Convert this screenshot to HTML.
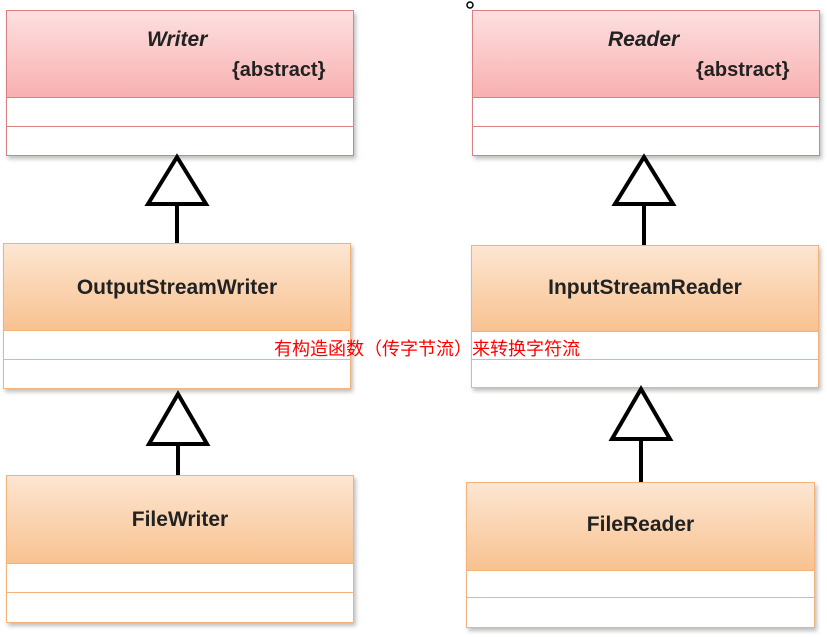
<!DOCTYPE html>
<html><head><meta charset="utf-8"><style>
body{margin:0;width:827px;height:637px;background:#fff;position:relative;overflow:hidden;font-family:"Liberation Sans","Noto Sans CJK SC",sans-serif}
.b{position:absolute;box-shadow:2px 3px 4px rgba(0,0,0,.25);background:#fff}
.h{position:absolute;left:0;right:0;top:0}
.r{border:1px solid #d98080}
.r .h{background:linear-gradient(#fde0e0,#f8b0b0);border-bottom:1px solid #d98080}
.o{border:1px solid #f2b27a}
.o .h{background:linear-gradient(#fde6d2,#f8c290);border-bottom:1px solid #f2b27a}
.d{position:absolute;left:0;right:0;height:1px}
.r .d{background:#d98080}.o .d{background:#f2b27a}
.t{position:absolute;left:0;right:0;text-align:center;font-weight:bold;font-size:21px;color:#222}
.it{font-style:italic;font-weight:bold;font-size:21px;color:#222;position:absolute}
.ab{font-weight:bold;font-size:20px;color:#222;position:absolute}
</style></head><body>
<div class="b r" style="left:6px;top:10px;width:346px;height:144px"><div class="h" style="height:86px"></div><div class="d" style="top:115px"></div>
<div class="it" style="left:140px;top:17px">Writer</div><div class="ab" style="left:225px;top:48px">{abstract}</div></div>
<div class="b r" style="left:472px;top:10px;width:346px;height:144px"><div class="h" style="height:86px"></div><div class="d" style="top:115px"></div>
<div class="it" style="left:135px;top:17px">Reader</div><div class="ab" style="left:223px;top:48px">{abstract}</div></div>
<div class="b o" style="left:3px;top:243px;width:346px;height:144px"><div class="h" style="height:86px"></div><div class="d" style="top:115px"></div><div class="t" style="top:32px">OutputStreamWriter</div></div>
<div class="b o" style="left:471px;top:245px;width:346px;height:141px"><div class="h" style="height:85px"></div><div class="d" style="top:113px"></div><div class="t" style="top:30px">InputStreamReader</div></div>
<div class="b o" style="left:6px;top:475px;width:346px;height:146px"><div class="h" style="height:87px"></div><div class="d" style="top:116px"></div><div class="t" style="top:32px">FileWriter</div></div>
<div class="b o" style="left:466px;top:482px;width:347px;height:144px"><div class="h" style="height:87px"></div><div class="d" style="top:114px"></div><div class="t" style="top:30px">FileReader</div></div>
<svg width="827" height="637" style="position:absolute;left:0;top:0" fill="none" stroke="#000" stroke-width="4">
<polygon points="177,157 148,204 206,204" fill="#fff"/><line x1="177" y1="204" x2="177" y2="243"/>
<polygon points="644,157 615,204 673,204" fill="#fff"/><line x1="644" y1="204" x2="644" y2="245"/>
<polygon points="178,394 149,444 207,444" fill="#fff"/><line x1="178" y1="444" x2="178" y2="475"/>
<polygon points="641,389 612,439 670,439" fill="#fff"/><line x1="641" y1="439" x2="641" y2="482"/>
<circle cx="470" cy="5" r="3" stroke-width="1.5"/>
</svg>
<div style="position:absolute;left:274px;top:335px;font-size:18px;color:#f00;white-space:nowrap;font-family:'Noto Sans CJK SC',sans-serif">有构造函数（传字节流）来转换字符流</div>
</body></html>
